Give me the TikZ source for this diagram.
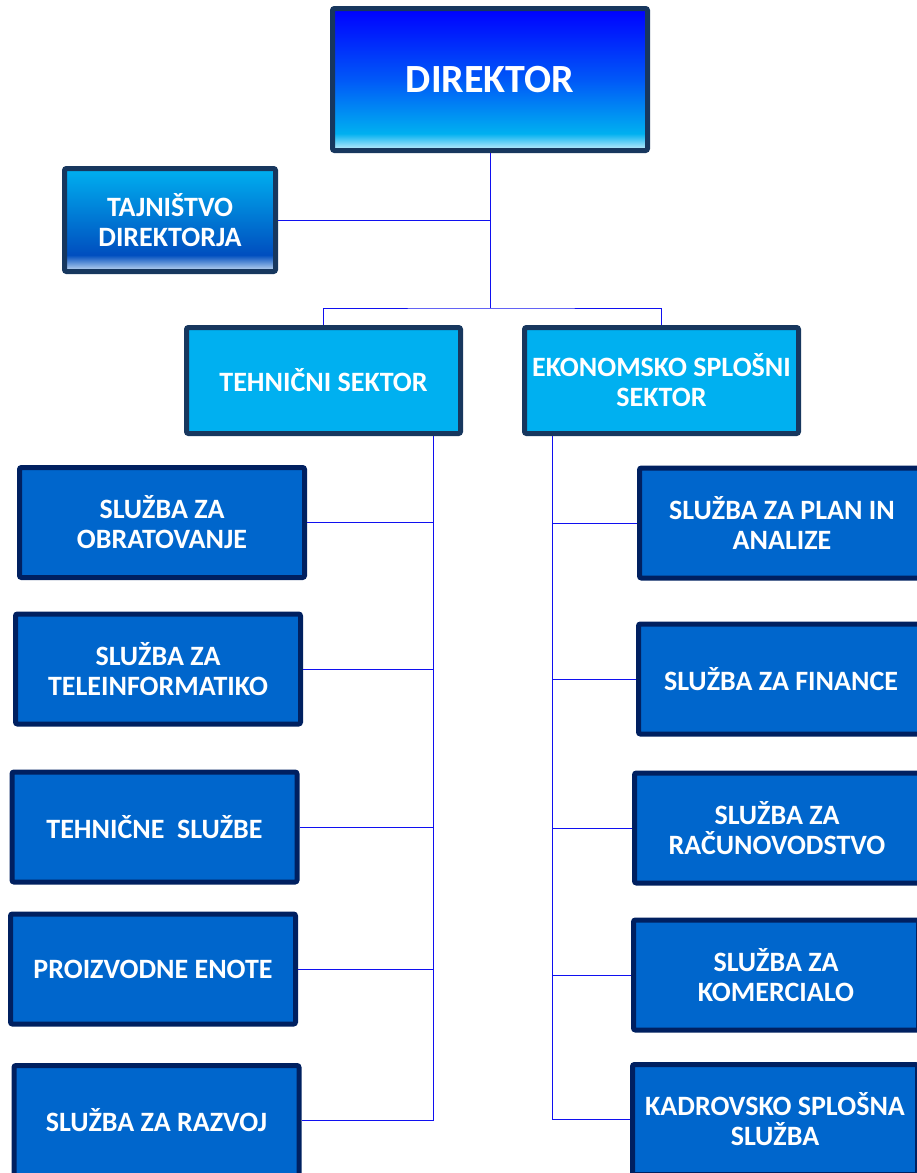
\documentclass[tikz,border=0pt]{standalone}
\usepackage{fontspec}
\setmainfont{Carlito}
\definecolor{navyA}{HTML}{17375E}
\definecolor{navyB}{HTML}{002060}
\definecolor{sector}{HTML}{00B0F0}
\definecolor{unit}{HTML}{0066CC}
\definecolor{linkc}{HTML}{1010F0}
\pgfdeclareverticalshading{dirshade}{100bp}{color(0bp)=(white!80!sector); color(25bp)=(white!80!sector); color(31bp)=(sector); color(50bp)=(blue!50!sector); color(75bp)=(blue); color(100bp)=(blue)}
\pgfdeclareverticalshading{tajshade}{100bp}{color(0bp)=(white!80!unit); color(25bp)=(white!80!unit); color(33bp)=(unit!85!blue!90!black); color(75bp)=(sector); color(100bp)=(sector)}
\begin{document}
\begin{tikzpicture}[x=1pt,y=-1pt,
  box/.style={draw, line width=5pt, rounded corners=2pt, text=white, align=center, font=\bfseries\fontsize{28}{30}\selectfont, inner sep=0pt},
  unitbox/.style={box, draw=navyB, fill=unit, minimum width=285pt, minimum height=110pt},
  secbox/.style={box, draw=navyA, fill=sector, minimum width=274pt, minimum height=106pt},
  link/.style={draw=linkc, line width=1pt}]
\useasboundingbox (0,0) rectangle (916,1173);
% nodes
\node[box, draw=navyA, shading=dirshade, minimum width=315pt, minimum height=142pt, font=\bfseries\fontsize{40}{42}\selectfont] (dir) at (490,79.5) {DIREKTOR};
\node[box, draw=navyA, shading=tajshade, minimum width=211pt, minimum height=103pt] (taj) at (170,220) {TAJNIŠTVO\\DIREKTORJA};
\node[secbox] (teh) at (323.5,380.5) {TEHNIČNI SEKTOR};
\node[secbox] (eko) at (661.5,380.5) {EKONOMSKO SPLOŠNI\\SEKTOR};
\node[unitbox] (l1) at (162,522.5) {SLUŽBA ZA\\OBRATOVANJE};
\node[unitbox] (l2) at (158,669) {SLUŽBA ZA\\TELEINFORMATIKO};
\node[unitbox] (l3) at (154.5,827) {TEHNIČNE\ \ SLUŽBE};
\node[unitbox] (l4) at (153,969) {PROIZVODNE ENOTE};
\node[unitbox] (l5) at (156.5,1120.5) {SLUŽBA ZA RAZVOJ};
\node[unitbox] (r1) at (782,523) {SLUŽBA ZA PLAN IN\\ANALIZE};
\node[unitbox] (r2) at (781,679) {SLUŽBA ZA FINANCE};
\node[unitbox] (r3) at (777,828) {SLUŽBA ZA\\RAČUNOVODSTVO};
\node[unitbox] (r4) at (776,975) {SLUŽBA ZA\\KOMERCIALO};
\node[unitbox] (r5) at (775,1119.5) {KADROVSKO SPLOŠNA\\SLUŽBA};
% connectors
\coordinate (hub) at (490,308);
\coordinate (lx) at (433,0);
\coordinate (rx) at (552,0);
\path[link] (dir.south) -- (hub);
\path[link] (taj.east) -- (taj.east -| hub);
\path[link] (teh.north) |- (hub) -| (eko.north);
\path[link] (teh.south -| lx) -- (l5.east -| lx);
\foreach \n in {l1,l2,l3,l4,l5} {\path[link] (\n.east) -- (\n.east -| lx);}
\path[link] (eko.south -| rx) -- (r5.west -| rx);
\foreach \n in {r1,r2,r3,r4,r5} {\path[link] (\n.west) -- (\n.west -| rx);}
\end{tikzpicture}
\end{document}
